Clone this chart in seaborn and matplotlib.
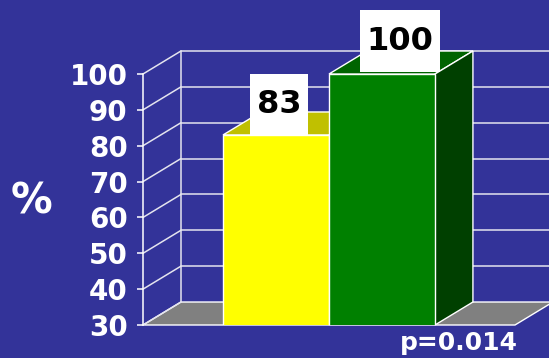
import matplotlib
matplotlib.use("Agg")
import matplotlib.pyplot as plt
import pandas as pd
import seaborn as sns
from matplotlib.patches import Polygon, Rectangle
from matplotlib.transforms import ScaledTranslation

groups = ["Group 1", "Group 2"]
percent = [83, 100]
y_ticks = [30, 40, 50, 60, 70, 80, 90, 100]
p_label = "p=0.014"

front_colors = ["#ffff00", "#008000"]
top_colors = ["#c0c000", "#006400"]
side_colors = ["#9a9a00", "#004000"]

BG = "#333399"
GRID = "#e4e4ee"
X0, X1 = -1.255, 2.255   # front edge of the floor, category units
DX, DY = 0.358, 6.41     # depth of the fake 3d box, data units
# value boxes in pixels relative to the front top centre of each bar
box_dx = [-26, -22]
box_w = [58, 80]
box_lift = [-1, 2]
box_h = 62


def main():
    sns.set_theme(style="white")
    plt.rcParams["font.family"] = ["DejaVu Sans"]
    plt.rcParams["font.weight"] = "bold"

    fig = plt.figure(figsize=(5.49, 3.58), dpi=100, facecolor=BG)
    ax = fig.add_axes([143 / 549, 33 / 358, 372 / 549, 251 / 358])
    ax.set_facecolor("none")

    df = pd.DataFrame({"group": groups, "pct": percent})
    sns.barplot(data=df, x="group", y="pct", hue="group", palette=front_colors, width=1,
                saturation=1, legend=False, edgecolor="white", linewidth=1, ax=ax, zorder=3)
    ax.set_xlim(X0, X1)
    ax.set_ylim(y_ticks[0], y_ticks[-1])

    # floor
    floor = Polygon([(X0, 30), (X1, 30), (X1 + DX, 30 + DY), (X0 + DX, 30 + DY)],
                    closed=True, fc="#808080", ec="white", lw=1, zorder=1, clip_on=False)
    ax.add_patch(floor)
    # back wall grid and left wall lines
    for t in y_ticks:
        if t > 30:
            ax.plot([X0 + DX, X1 + DX + 1], [t + DY, t + DY], color=GRID, lw=1.1, zorder=1.5, clip_on=False)
        ax.plot([X0, X0 + DX], [t, t + DY], color=GRID, lw=1.1, zorder=1.5, clip_on=False)
    ax.plot([X0 + DX, X0 + DX], [30 + DY, 100 + DY], color=GRID, lw=1.1, zorder=1.5, clip_on=False)

    # top and side faces of the bars
    for i, v in enumerate(percent):
        top = Polygon([(i - .5, v), (i + .5, v), (i + .5 + DX, v + DY), (i - .5 + DX, v + DY)],
                      closed=True, fc=top_colors[i], ec="white", lw=1, zorder=2, clip_on=False)
        side = Polygon([(i + .5, 30), (i + .5, v), (i + .5 + DX, v + DY), (i + .5 + DX, 30 + DY)],
                       closed=True, fc=side_colors[i], ec="white", lw=1, zorder=2, clip_on=False)
        ax.add_patch(top)
        ax.add_patch(side)

        trans = fig.dpi_scale_trans + ScaledTranslation(i, v, ax.transData)
        ax.add_patch(Rectangle((box_dx[i] / 100, box_lift[i] / 100), box_w[i] / 100, box_h / 100,
                               transform=trans, fc="white", ec="none", zorder=5, clip_on=False))
        ax.text((box_dx[i] + box_w[i] / 2) / 100, (box_lift[i] + box_h / 2) / 100, str(v),
                transform=trans, ha="center", va="center", fontsize=23, color="black",
                fontweight="bold", zorder=6, clip_on=False)

    for side in ["top", "right", "bottom"]:
        ax.spines[side].set_visible(False)
    ax.spines["left"].set_color("white")
    ax.spines["left"].set_linewidth(1.1)
    ax.set_yticks(y_ticks)
    ax.tick_params(axis="y", left=True, colors="white", length=4, width=1.1, pad=7, labelsize=20)
    for lbl in ax.get_yticklabels():
        lbl.set_fontweight("bold")
    ax.set_xticks([])
    ax.set_xlabel("")
    ax.set_ylabel("")

    fig.text(32 / 549, 157 / 358, "%", fontsize=30, color="white", fontweight="bold", ha="center", va="center")
    fig.text(518 / 549, 8 / 358, p_label, fontsize=18, color="white", fontweight="bold", ha="right", va="baseline")

    fig.savefig("out.png", dpi=100, facecolor=BG)
    plt.close(fig)


if __name__ == "__main__":
    main()
